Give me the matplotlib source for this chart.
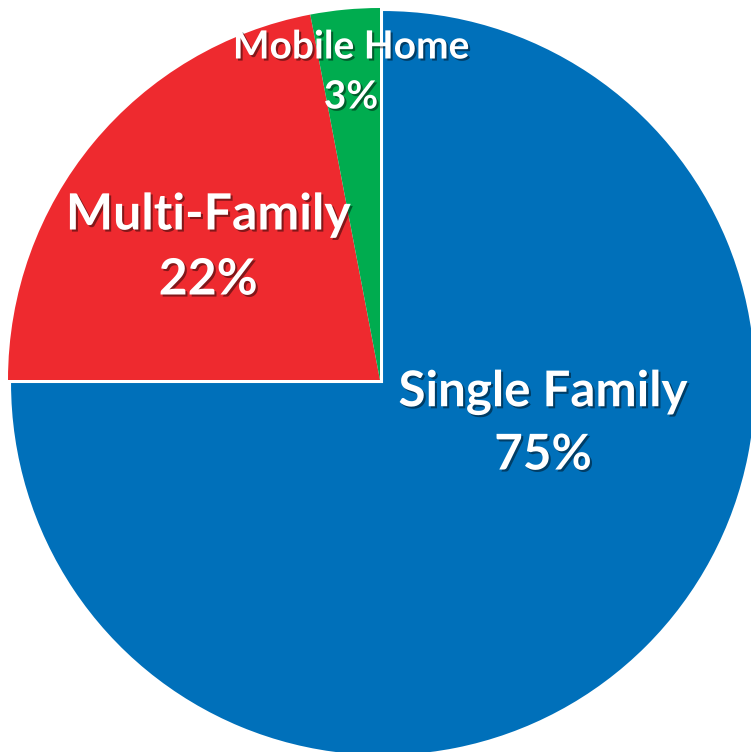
import matplotlib
matplotlib.use("Agg")
import matplotlib.pyplot as plt
import matplotlib.patheffects as pe
import numpy as np

# データ
categories = ["Single Family", "Multi-Family", "Mobile Home"]
shares = [75, 22, 3]
colors = ["#0070BA", "#EE2A2F", "#00AC4F"]

plt.rcParams['font.family'] = ['Lato', 'DejaVu Sans']

W, H = 751, 752
fig = plt.figure(figsize=(W / 100, H / 100), dpi=100)
ax = fig.add_axes([0, 0, 1, 1])

# 円グラフ (座標はピクセル相当, y は下から)
cx, cy, r = 380, H - 380, 372
ax.pie(shares, colors=colors, startangle=90, counterclock=False,
       center=(cx, cy), radius=r, explode=[4.3, 0, 0],
       wedgeprops=dict(linewidth=0))
ax.set_xlim(0, W)
ax.set_ylim(0, H)
ax.set_aspect('auto')
ax.axis('off')

# ラベル設定 (名前の位置, %の位置, フォントサイズ)
shadow = [pe.withSimplePatchShadow(offset=(1.5, -1.5), shadow_rgbFace='black', alpha=0.45)]
label_pos = [((543, 392), (543, 455), 35.5),
             ((208, 215), (208, 280), 36),
             ((351, 47), (351, 97), 28)]
for name, val, (p1, p2, fs) in zip(categories, shares, label_pos):
    ax.text(p1[0], H - p1[1], name, ha='center', va='center', color='white',
            fontsize=fs, fontweight='bold', path_effects=shadow)
    ax.text(p2[0], H - p2[1], f"{val}%", ha='center', va='center', color='white',
            fontsize=fs, fontweight='bold', path_effects=shadow)

fig.savefig("out.png", dpi=100)
plt.close()
